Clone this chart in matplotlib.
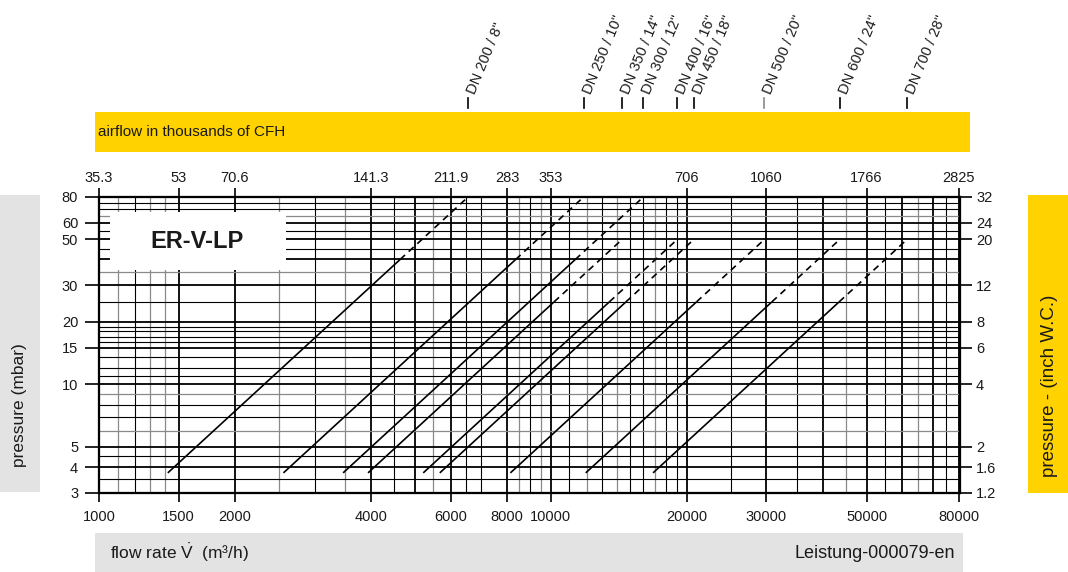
import numpy as np
import matplotlib.pyplot as plt
import matplotlib.transforms as mtransforms
from matplotlib.lines import Line2D
from matplotlib.patches import Rectangle
from matplotlib.ticker import FixedLocator, NullLocator

plt.rcParams['font.family'] = ['Liberation Sans', 'DejaVu Sans']
plt.rcParams['mathtext.fontset'] = 'custom'
plt.rcParams['mathtext.rm'] = 'Liberation Sans'
plt.rcParams['mathtext.it'] = 'Liberation Sans:italic'

W, H = 1068, 572
YELLOW = '#FFD200'
GREY = '#E3E3E3'
TXT = '#1a1a1a'

# bottom axis (m3/h) and the same positions in thousands of CFH on top
flow_ticks = [1000, 1500, 2000, 4000, 6000, 8000, 10000, 20000, 30000, 50000, 80000]
cfh_labels = ['35.3', '53', '70.6', '141.3', '211.9', '283', '353', '706', '1060', '1766', '2825']
# left axis (mbar) and right axis (inch W.C.)
p_ticks = [3, 4, 5, 10, 15, 20, 30, 50, 60, 80]
wc_labels = ['1.2', '1.6', '2', '4', '6', '8', '12', '20', '24', '32']

# grid lines of the chart paper
grid_x_heavy = flow_ticks + [5000, 40000, 60000, 70000]
grid_x_dark = [1200, 3000, 4500, 6500, 7000, 9000, 11000, 13000, 15000, 16000,
               18000, 19000, 25000, 35000, 55000, 75000]
grid_x_grey = [1100, 1300, 1400, 2500, 3500, 5500, 8500, 9500, 12000, 14000,
               17000, 45000, 65000]
grid_y_heavy = p_ticks + [40]
grid_y_dark = [3.5, 4.5, 7, 8, 11, 12, 13.5, 16, 17, 18, 19, 25, 45, 55, 70, 75]
grid_y_grey = [6, 9, 35, 65]

# valve curves: start, end of solid part, end of dashed part
dn_labels = ['DN 200 / 8"', 'DN 250 / 10"', 'DN 300 / 12"', 'DN 350 / 14"',
             'DN 400 / 16"', 'DN 450 / 18"', 'DN 500 / 20"', 'DN 600 / 24"',
             'DN 700 / 28"']
flow_start = [1420, 2560, 3470, 3940, 5220, 5680, 8140, 11950, 16840]
flow_solid = [4640, 8360, 11330, 10170, 13480, 14670, 21020, 30860, 43480]
flow_end = [6560, 11820, 16030, 14390, 19060, 20740, 29720, 43630, 61480]
p_start = [3.75, 3.75, 3.75, 3.75, 3.75, 3.75, 3.75, 3.75, 3.75]
p_solid = [40, 40, 40, 25, 25, 25, 25, 25, 25]
p_end = [80, 80, 80, 50, 50, 50, 50, 50, 50]


def fx(px):
    return px / W


def fy(py):
    return 1 - py / H


def main():
    fig = plt.figure(figsize=(W / 100, H / 100), dpi=100)
    ax = fig.add_axes([fx(99), fy(493), fx(960) - fx(99), fy(197) - fy(493)])
    ax.set_xscale('log')
    ax.set_yscale('log')

    # chart paper grid
    for xs, c, lw in [(grid_x_grey, '#8a8a8a', 0.9), (grid_x_dark, 'k', 0.8),
                      (grid_x_heavy, 'k', 1.3)]:
        ax.vlines(xs, 3, 80, colors=c, lw=lw, zorder=1)
    for ys, c, lw in [(grid_y_grey, '#8a8a8a', 0.9), (grid_y_dark, 'k', 0.8),
                      (grid_y_heavy, 'k', 1.3)]:
        ax.hlines(ys, 1000, 80500, colors=c, lw=lw, zorder=1)

    # name box
    ax.add_patch(Rectangle((1057, 35.6), 2600 - 1057, 67.5 - 35.6,
                           facecolor='white', edgecolor='none', zorder=2))
    ax.text(1645, 49, 'ER-V-LP', fontsize=17, fontweight='bold', color=TXT,
            ha='center', va='center', zorder=3)

    for i in range(len(dn_labels)):
        ax.plot([flow_start[i], flow_solid[i]], [p_start[i], p_solid[i]],
                color='k', lw=1.2, solid_capstyle='butt', zorder=4)
        ax.plot([flow_solid[i], flow_end[i]], [p_solid[i], p_end[i]],
                color='k', lw=1.2, dashes=(4, 3), zorder=4)

    ax.set_xlim(1000, 80500)
    ax.set_ylim(3, 80)

    ax.xaxis.set_major_locator(FixedLocator(flow_ticks))
    ax.xaxis.set_minor_locator(NullLocator())
    ax.set_xticklabels([str(v) for v in flow_ticks])
    ax.yaxis.set_major_locator(FixedLocator(p_ticks))
    ax.yaxis.set_minor_locator(NullLocator())
    ax.set_yticklabels([str(v) for v in p_ticks])
    ax.tick_params(axis='x', direction='out', length=6.5, width=1.2, pad=6,
                   labelsize=10.5, labelcolor=TXT)
    ax.tick_params(axis='y', direction='out', length=10, width=1.2, pad=5,
                   labelsize=10.5, labelcolor=TXT)

    axt = ax.twiny()
    axt.set_xscale('log')
    axt.set_xlim(ax.get_xlim())
    axt.xaxis.set_major_locator(FixedLocator(flow_ticks))
    axt.xaxis.set_minor_locator(NullLocator())
    axt.set_xticklabels(cfh_labels)
    axt.tick_params(axis='x', direction='out', length=6.5, width=1.2, pad=2,
                    labelsize=10.5, labelcolor=TXT)

    axr = ax.twinx()
    axr.set_yscale('log')
    axr.set_ylim(ax.get_ylim())
    axr.yaxis.set_major_locator(FixedLocator(p_ticks))
    axr.yaxis.set_minor_locator(NullLocator())
    axr.set_yticklabels(wc_labels)
    axr.tick_params(axis='y', direction='out', length=8.5, width=1.2, pad=3,
                    labelsize=10.5, labelcolor=TXT)

    for a in (ax, axt, axr):
        for s in a.spines.values():
            s.set_linewidth(1.5)
            s.set_zorder(5)

    # coloured bands
    fig.patches.append(Rectangle((fx(95), fy(152)), fx(970) - fx(95), fy(112) - fy(152),
                                 transform=fig.transFigure, facecolor=YELLOW,
                                 edgecolor='none', zorder=0))
    fig.text(fx(98), fy(132), 'airflow in thousands of CFH', fontsize=11,
             color=TXT, ha='left', va='center')
    fig.patches.append(Rectangle((fx(95), 0), fx(963) - fx(95), fy(533),
                                 transform=fig.transFigure, facecolor=GREY,
                                 edgecolor='none', zorder=0))
    fig.text(fx(110), fy(553), r'flow rate $\dot{\mathrm{V}}$  (m³/h)', fontsize=12.5,
             color=TXT, ha='left', va='center')
    fig.text(fx(955), fy(553), 'Leistung-000079-en', fontsize=13,
             color=TXT, ha='right', va='center')
    fig.patches.append(Rectangle((0, fy(492)), fx(40), fy(195) - fy(492),
                                 transform=fig.transFigure, facecolor=GREY,
                                 edgecolor='none', zorder=0))
    fig.text(fx(20), fy(467), 'pressure (mbar)', fontsize=12.5, color=TXT,
             rotation=90, ha='center', va='bottom')
    fig.patches.append(Rectangle((fx(1028), fy(493)), fx(1068) - fx(1028), fy(195) - fy(493),
                                 transform=fig.transFigure, facecolor=YELLOW,
                                 edgecolor='none', zorder=0))
    fig.text(fx(1049), fy(477), 'pressure - (inch W.C.)', fontsize=13.5, color=TXT,
             rotation=90, ha='center', va='bottom')

    # DN labels above the chart, at the top end of each curve
    trans = mtransforms.blended_transform_factory(ax.transData, fig.transFigure)
    ttrans = mtransforms.offset_copy(trans, fig=fig, x=7, y=0, units='dots')
    for i, lab in enumerate(dn_labels):
        c = '#8a8a8a' if lab.startswith('DN 500') else 'k'
        fig.add_artist(Line2D([flow_end[i], flow_end[i]], [fy(108), fy(98)],
                              transform=trans, color=c, lw=1.2))
        fig.text(flow_end[i], fy(95), lab, transform=ttrans, fontsize=10.5,
                 color=TXT, rotation=67.5, rotation_mode='anchor',
                 ha='left', va='baseline')

    plt.savefig('out.png', dpi=100)


if __name__ == '__main__':
    main()
